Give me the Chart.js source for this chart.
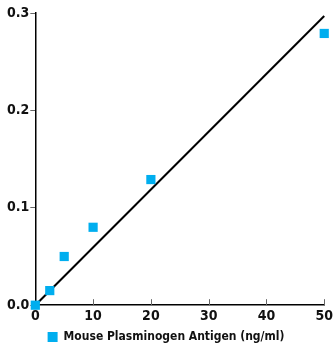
<!DOCTYPE html>
<html>
<head>
<meta charset="utf-8">
<script src="https://cdn.jsdelivr.net/npm/chart.js@4"></script>
<style>
  html, body { margin: 0; padding: 0; background: #fff; }
  #wrap { width: 336px; height: 345px; position: relative; }
</style>
</head>
<body>
<div id="wrap"><canvas id="chart"></canvas></div>
<script>
const concentrations = [0, 2.5, 5, 10, 20, 50];
const absorbance = [0.0, 0.015, 0.05, 0.08, 0.129, 0.279];
const fitX = [0, 50];
const fitY = [0, 0.297];
const xTicks = [0, 10, 20, 30, 40, 50];
const yTicks = [0, 0.1, 0.2, 0.3];
const seriesLabel = 'Mouse Plasminogen Antigen (ng/ml)';

const fontFamily = "'Liberation Sans Narrow', 'DejaVu Sans Condensed', sans-serif";
const tickFont = { family: fontFamily, size: 14, weight: 'bold' };

// x axis tick marks point up into the plot
const innerTicks = {
  id: 'innerTicks',
  afterDraw(chart) {
    const { ctx, scales: { x, y } } = chart;
    ctx.save();
    ctx.strokeStyle = '#666';
    ctx.lineWidth = 1;
    xTicks.slice(1).forEach((v) => {
      const px = Math.round(x.getPixelForValue(v)) + 0.5;
      ctx.beginPath();
      ctx.moveTo(px, y.bottom);
      ctx.lineTo(px, y.bottom - 6);
      ctx.stroke();
    });
    ctx.restore();
  },
};

new Chart(document.getElementById('chart'), {
  type: 'scatter',
  data: {
    datasets: [
      {
        label: 'fit',
        type: 'line',
        data: fitX.map((x, i) => ({ x, y: fitY[i] })),
        borderColor: '#000',
        borderWidth: 2,
        pointRadius: 0,
        fill: false,
        order: 2,
      },
      {
        label: seriesLabel,
        data: concentrations.map((x, i) => ({ x, y: absorbance[i] })),
        pointStyle: 'rect',
        pointRadius: 6.5,
        pointHoverRadius: 6.5,
        backgroundColor: '#00aeef',
        borderColor: '#00aeef',
        borderWidth: 0,
        order: 1,
      },
    ],
  },
  options: {
    responsive: true,
    maintainAspectRatio: false,
    animation: false,
    clip: false,
    layout: { padding: { left: 6, right: 10, top: 13, bottom: -8 } },
    plugins: {
      tooltip: { enabled: false },
      legend: {
        position: 'bottom',
        labels: {
          filter: (item) => item.text === seriesLabel,
          usePointStyle: true,
          pointStyle: 'rect',
          boxWidth: 10,
          boxHeight: 10,
          color: '#111',
          padding: 3,
          font: { family: fontFamily, size: 12, weight: 'bold' },
        },
      },
    },
    scales: {
      x: {
        type: 'linear',
        min: 0,
        max: 50,
        afterBuildTicks: (axis) => { axis.ticks = xTicks.map((value) => ({ value })); },
        border: { color: '#000', width: 1.5 },
        grid: { display: true, drawOnChartArea: false, drawTicks: false },
        ticks: { color: '#111', font: tickFont, padding: 3 },
      },
      y: {
        type: 'linear',
        min: 0,
        max: 0.3,
        afterBuildTicks: (axis) => { axis.ticks = yTicks.map((value) => ({ value })); },
        border: { color: '#000', width: 1.5 },
        grid: { display: true, drawOnChartArea: false, drawTicks: true, tickLength: 5, color: '#666' },
        ticks: { color: '#111', font: tickFont, padding: 1, callback: (v) => Number(v).toFixed(1) },
      },
    },
  },
  plugins: [innerTicks],
});
</script>
</body>
</html>
